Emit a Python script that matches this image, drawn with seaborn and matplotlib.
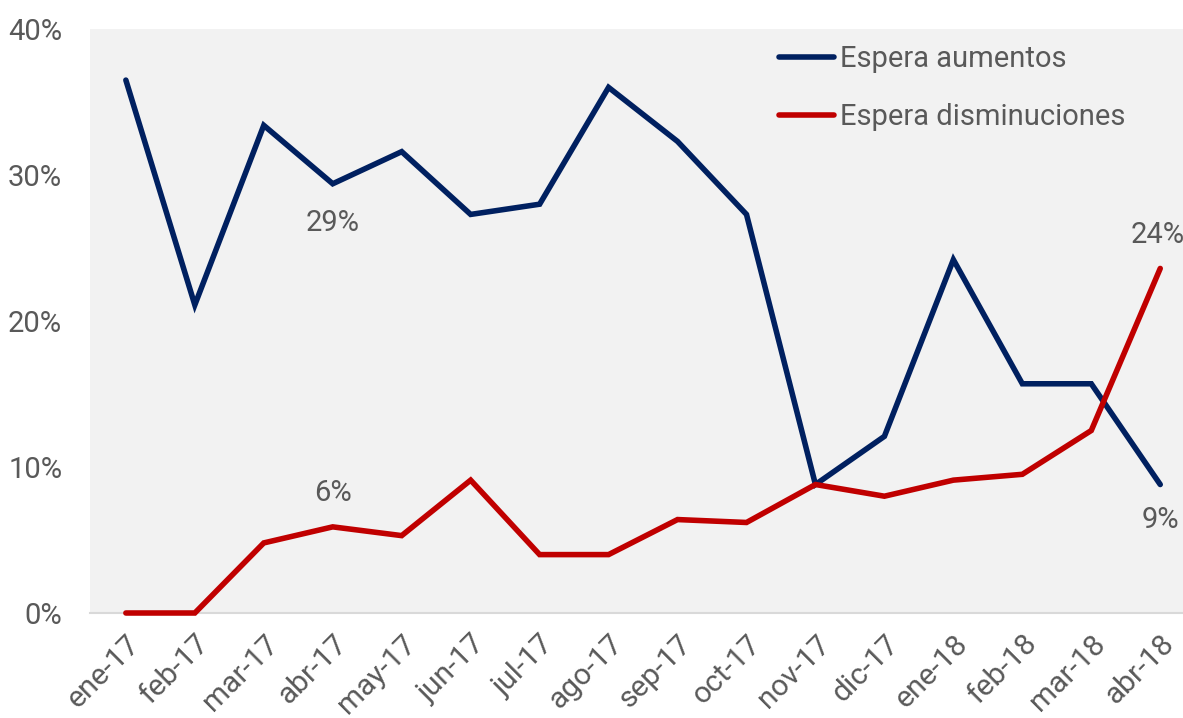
import matplotlib
matplotlib.use("Agg")
import matplotlib.pyplot as plt
import seaborn as sns
import pandas as pd
from matplotlib.ticker import FuncFormatter

months = ["ene-17", "feb-17", "mar-17", "abr-17", "may-17", "jun-17", "jul-17", "ago-17",
          "sep-17", "oct-17", "nov-17", "dic-17", "ene-18", "feb-18", "mar-18", "abr-18"]
aumentos = [36.5, 21.1, 33.4, 29.4, 31.6, 27.3, 28.0, 36.0,
            32.3, 27.3, 8.8, 12.1, 24.2, 15.7, 15.7, 8.8]
disminuciones = [0.0, 0.0, 4.8, 5.9, 5.3, 9.1, 4.0, 4.0,
                 6.4, 6.2, 8.8, 8.0, 9.1, 9.5, 12.5, 23.6]
series_names = ["Espera aumentos", "Espera disminuciones"]
colors = ["#002060", "#C00000"]

df = pd.DataFrame({
    "x": list(range(len(months))) * 2,
    "valor": aumentos + disminuciones,
    "serie": [series_names[0]] * len(months) + [series_names[1]] * len(months),
})

sns.set_theme(style="white")
plt.rcParams["font.family"] = ["Roboto", "DejaVu Sans"]
text_color = "#595959"

fig = plt.figure(figsize=(11.83, 7.18), dpi=100)
ax = fig.add_axes([90 / 1183, 1 - 613 / 718, 1 - 90 / 1183, (613 - 29) / 718])
ax.set_facecolor("#F2F2F2")

sns.lineplot(data=df, x="x", y="valor", hue="serie", palette=colors, linewidth=4,
             ax=ax, legend=True)
for line in ax.get_lines():
    line.set_solid_capstyle("round")
    line.set_solid_joinstyle("miter")
    line.set_clip_on(False)
    line.set_zorder(3)

ax.set_xlim(-0.52, 15.33)
ax.set_ylim(0, 40)
ax.set_yticks([0, 10, 20, 30, 40])
ax.yaxis.set_major_formatter(FuncFormatter(lambda v, p: f"{v:.0f}%"))
ax.set_xticks(range(len(months)))
ax.set_xticklabels(months, rotation=45, ha="right", va="top", rotation_mode="anchor")
ax.tick_params(axis="both", length=0, colors=text_color)
ax.tick_params(axis="x", pad=12, labelsize=21.5)
ax.tick_params(axis="y", pad=20, labelsize=21)
ax.set_xlabel("")
ax.set_ylabel("")
for s in ["top", "right", "left"]:
    ax.spines[s].set_visible(False)
ax.spines["bottom"].set_color("#D9D9D9")
ax.spines["bottom"].set_linewidth(1.5)
ax.spines["bottom"].set_zorder(1)

leg = ax.legend(loc="upper left", bbox_to_anchor=(0.630, 0.973), frameon=False, fontsize=21,
                handlelength=1.9, handletextpad=0.2, labelspacing=1.05, labelcolor=text_color,
                borderpad=0, borderaxespad=0)
for h in leg.get_lines():
    h.set_linewidth(4)
    h.set_solid_capstyle("round")

ann = dict(fontsize=21, color=text_color, ha="center", va="center")
ax.text(3, aumentos[3] - 2.7, "29%", **ann)
ax.text(3, disminuciones[3] + 2.3, "6%", **ann)
ax.text(14.96, disminuciones[15] + 2.3, "24%", clip_on=False, **ann)
ax.text(15, aumentos[15] - 2.4, "9%", **ann)

fig.savefig("out.png", dpi=100)
